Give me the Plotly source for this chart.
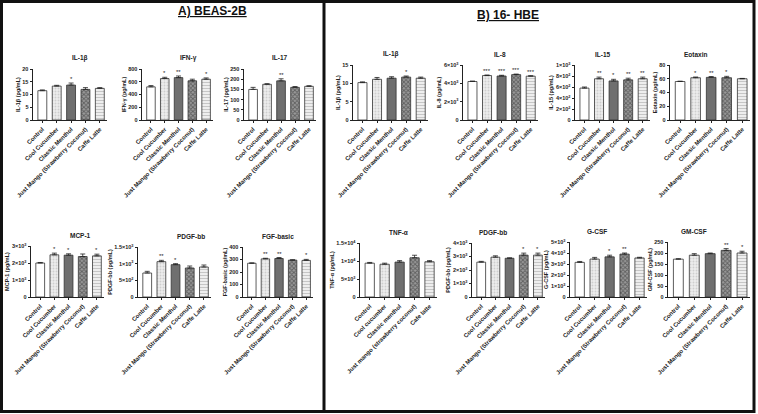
import plotly.graph_objects as go

W, H = 758, 414

# ---------------- DATA ----------------
cats = ["Control", "Cool Cucumber", "Classic Menthol",
        "Just Mango (Strawberry Coconut)", "Caffe Latte"]
cats_tnf = ["Control", "Cool cucumber", "Classic menthol",
            "Just mango (strawberry coconut)", "Cafe latte"]

# Panel A) BEAS-2B
a_il1b = [11.5, 13.3, 13.7, 12.0, 12.4]
a_il1b_err = [0.3, 0.3, 0.8, 0.7, 0.3]
a_il1b_sig = ["", "", "*", "", ""]

a_ifng = [520, 650, 665, 615, 640]
a_ifng_err = [20, 20, 25, 25, 20]
a_ifng_sig = ["", "*", "**", "", "*"]

a_il17 = [150, 175, 192, 160, 165]
a_il17_err = [10, 3, 10, 4, 3]
a_il17_sig = ["", "", "**", "", ""]

a_mcp1 = [2000, 2480, 2460, 2380, 2420]
a_mcp1_err = [30, 100, 80, 150, 100]
a_mcp1_sig = ["", "*", "*", "", "*"]

a_pdgf = [720, 1060, 970, 870, 900]
a_pdgf_err = [50, 40, 30, 60, 60]
a_pdgf_sig = ["", "**", "*", "", ""]

a_fgf = [270, 305, 308, 295, 293]
a_fgf_err = [3, 5, 8, 3, 8]
a_fgf_sig = ["", "**", "**", "", "*"]

# Panel B) 16-HBE
b_il1b = [10.2, 11.1, 11.4, 11.7, 11.4]
b_il1b_err = [0.2, 0.5, 0.4, 0.3, 0.3]
b_il1b_sig = ["", "", "", "*", ""]

b_il8 = [4200, 4850, 4800, 4950, 4780]
b_il8_err = [50, 60, 80, 60, 50]
b_il8_sig = ["", "***", "***", "***", "***"]

b_il15 = [580, 750, 710, 730, 750]
b_il15_err = [20, 30, 30, 30, 30]
b_il15_sig = ["", "**", "*", "**", "**"]

b_eot = [56, 61.5, 62, 61.5, 60]
b_eot_err = [0.5, 1, 1.2, 2, 0.5]
b_eot_sig = ["", "*", "**", "*", ""]

b_tnf = [9400, 9100, 9700, 10900, 9800]
b_tnf_err = [200, 300, 400, 700, 300]
b_tnf_sig = ["", "", "", "", ""]

b_pdgf = [2580, 2950, 2870, 3100, 3100]
b_pdgf_err = [60, 100, 30, 150, 150]
b_pdgf_sig = ["", "", "", "*", "*"]

b_gcsf = [3150, 3450, 3650, 3900, 3550]
b_gcsf_err = [80, 150, 150, 100, 60]
b_gcsf_sig = ["", "", "*", "**", ""]

b_gmcsf = [172, 190, 197, 212, 200]
b_gmcsf_err = [2, 7, 3, 8, 8]
b_gmcsf_sig = ["", "", "", "**", "*"]

# tick definitions
def sci(m, e):
    return f"{m}×10<sup>{e}</sup>"

t_il1b_a = ([0, 5, 10, 15, 20], ["0", "5", "10", "15", "20"])
t_ifng = ([0, 200, 400, 600, 800], ["0", "200", "400", "600", "800"])
t_il17 = ([0, 50, 100, 150, 200, 250], ["0", "50", "100", "150", "200", "250"])
t_mcp1 = ([0, 1000, 2000, 3000], ["0", sci(1, 3), sci(2, 3), sci(3, 3)])
t_pdgf_a = ([0, 500, 1000, 1500], ["0", sci(5, 2), sci(1, 3), sci(1.5, 3)])
t_fgf = ([0, 100, 200, 300, 400], ["0", "100", "200", "300", "400"])
t_il1b_b = ([0, 5, 10, 15], ["0", "5", "10", "15"])
t_il8 = ([0, 2000, 4000, 6000], ["0", sci(2, 3), sci(4, 3), sci(6, 3)])
t_il15 = ([0, 200, 400, 600, 800, 1000], ["0", sci(2, 2), sci(4, 2), sci(6, 2), sci(8, 2), sci(1, 3)])
t_eot = ([0, 20, 40, 60, 80], ["0", "20", "40", "60", "80"])
t_tnf = ([0, 5000, 10000, 15000], ["0", sci(5, 3), sci(1, 4), sci(1.5, 4)])
t_pdgf_b = ([0, 1000, 2000, 3000, 4000], ["0", sci(1, 3), sci(2, 3), sci(3, 3), sci(4, 3)])
t_gcsf = ([0, 1000, 2000, 3000, 4000, 5000], ["0", sci(1, 3), sci(2, 3), sci(3, 3), sci(4, 3), sci(5, 3)])
t_gmcsf = ([0, 50, 100, 150, 200, 250], ["0", "50", "100", "150", "200", "250"])

# (title, ytitle, categories, values, errors, sig, ticks, [x0,x1,ytop,ybottom] in px)
panels = [
    ("IL-1β", "IL-1β (pg/mL)", cats, a_il1b, a_il1b_err, a_il1b_sig, t_il1b_a, [33, 107, 69, 120]),
    ("IFN-γ", "IFN-γ (pg/mL)", cats, a_ifng, a_ifng_err, a_ifng_sig, t_ifng, [142, 213, 69, 120]),
    ("IL-17", "IL-17 (pg/mL)", cats, a_il17, a_il17_err, a_il17_sig, t_il17, [244, 316, 69, 120]),
    ("MCP-1", "MCP-1 (pg/mL)", cats, a_mcp1, a_mcp1_err, a_mcp1_sig, t_mcp1, [31, 104, 246, 297]),
    ("PDGF-bb", "PDGF-bb (pg/mL)", cats, a_pdgf, a_pdgf_err, a_pdgf_sig, t_pdgf_a, [138, 211, 247, 297]),
    ("FGF-basic", "FGF-basic (pg/mL)", cats, a_fgf, a_fgf_err, a_fgf_sig, t_fgf, [243, 313, 247, 297]),
    ("IL-1β", "IL-1β (pg/mL)", cats, b_il1b, b_il1b_err, b_il1b_sig, t_il1b_b, [353, 428, 65, 120]),
    ("IL-8", "IL-8 (pg/mL)", cats, b_il8, b_il8_err, b_il8_sig, t_il8, [463, 538, 65, 120]),
    ("IL-15", "IL-15 (pg/mL)", cats, b_il15, b_il15_err, b_il15_sig, t_il15, [575, 650, 65, 120]),
    ("Eotaxin", "Eotaxin (pg/mL)", cats, b_eot, b_eot_err, b_eot_sig, t_eot, [670, 750, 65, 120]),
    ("TNF-α", "TNF-α (pg/mL)", cats_tnf, b_tnf, b_tnf_err, b_tnf_sig, t_tnf, [360, 437, 243, 297]),
    ("PDGF-bb", "PDGF-bb (pg/mL)", cats, b_pdgf, b_pdgf_err, b_pdgf_sig, t_pdgf_b, [472, 545, 243, 297]),
    ("G-CSF", "G-CSF (pg/mL)", cats, b_gcsf, b_gcsf_err, b_gcsf_sig, t_gcsf, [570, 647, 242, 297]),
    ("GM-CSF", "GM-CSF (pg/mL)", cats, b_gmcsf, b_gmcsf_err, b_gmcsf_sig, t_gmcsf, [668, 750, 242, 297]),
]

# bar styles per treatment
styles = [
    dict(color="white", pattern=dict(shape="")),
    dict(color="#e6e6e6", pattern=dict(shape=".", fgcolor="#b0b0b0", bgcolor="#ececec", size=3, solidity=0.3)),
    dict(color="#6f6f6f", pattern=dict(shape="")),
    dict(color="#666666", pattern=dict(shape="x", fgcolor="#262626", bgcolor="#9a9a9a", size=3, solidity=0.5)),
    dict(color="#eeeeee", pattern=dict(shape="-", fgcolor="#9a9a9a", bgcolor="#f2f2f2", size=3, solidity=0.4)),
]

FONT = "Arial, Liberation Sans, sans-serif"
fig = go.Figure()
annotations = []

for i, (title, ytitle, cs, vals, errs, sig, ticks, pos) in enumerate(panels):
    n = i + 1
    xa = "x" if n == 1 else f"x{n}"
    ya = "y" if n == 1 else f"y{n}"
    x0, x1, yt, yb = pos
    for j in range(len(cs)):
        st = styles[j]
        fig.add_trace(go.Bar(
            x=[cs[j]], y=[vals[j]], xaxis=xa, yaxis=ya,
            width=0.62,
            marker=dict(color=st["color"], pattern=st["pattern"],
                        line=dict(color="#333333", width=0.8)),
            error_y=dict(type="data", symmetric=False, array=[errs[j]], arrayminus=[0],
                         color="#222222", thickness=0.8, width=2.5),
            showlegend=False, hoverinfo="skip",
        ))
        if sig[j]:
            annotations.append(dict(x=cs[j], y=vals[j] + errs[j], xref=xa, yref=ya,
                                    text=sig[j], showarrow=False, yanchor="bottom", yshift=-1,
                                    font=dict(size=6, family=FONT, color="#222")))
    xd = [x0 / W, x1 / W]
    yd = [1 - yb / H, 1 - yt / H]
    lay_x = "xaxis" if n == 1 else f"xaxis{n}"
    lay_y = "yaxis" if n == 1 else f"yaxis{n}"
    fig.layout[lay_x] = dict(domain=xd, anchor=ya, type="category", range=[-0.65, 4.5],
                             automargin=False,
                             showline=True, linecolor="#222", linewidth=0.9,
                             ticks="outside", ticklen=2.5, tickwidth=0.8, tickcolor="#222",
                             tickangle=-45, showgrid=False, zeroline=False,
                             tickfont=dict(size=6, family=FONT, color="#222", weight="bold"))
    fig.layout[lay_y] = dict(domain=yd, anchor=xa, range=[0, ticks[0][-1]],
                             automargin=False,
                             tickvals=ticks[0], ticktext=ticks[1],
                             showline=True, linecolor="#222", linewidth=0.9,
                             ticks="outside", ticklen=2.5, tickwidth=0.8, tickcolor="#222",
                             showgrid=False, zeroline=False,
                             tickfont=dict(size=5.5, family=FONT, color="#222", weight="bold"),
                             title=dict(text=ytitle, standoff=1,
                                        font=dict(size=5.5, family=FONT, color="#222", weight="bold")))
    annotations.append(dict(x=(x0 + x1) / 2 / W, y=1 - (yt - 11) / H, xref="paper", yref="paper",
                            text=f"<b>{title}</b>", showarrow=False, yanchor="middle",
                            font=dict(size=6.5, family=FONT, color="#222")))

annotations.append(dict(x=176 / W, y=1 - 11 / H, xref="paper", yref="paper",
                        text="<u><b>A) BEAS-2B</b></u>", showarrow=False, yanchor="middle",
                        font=dict(size=12, family=FONT, color="#111")))
annotations.append(dict(x=541 / W, y=1 - 15 / H, xref="paper", yref="paper",
                        text="<u><b>B) 16- HBE</b></u>", showarrow=False, yanchor="middle",
                        font=dict(size=12, family=FONT, color="#111")))

shapes = [
    dict(type="rect", xref="paper", yref="paper", x0=1.5 / W, x1=754 / W, y0=1 - 411.5 / H, y1=1 - 1.5 / H,
         line=dict(color="#111", width=3)),
    dict(type="line", xref="paper", yref="paper", x0=324 / W, x1=324 / W, y0=1 - 411.5 / H, y1=1 - 1.5 / H,
         line=dict(color="#111", width=3)),
]

fig.update_layout(width=W, height=H, margin=dict(l=0, r=0, t=0, b=0, autoexpand=False),
                  paper_bgcolor="white", plot_bgcolor="white",
                  barmode="overlay", annotations=annotations, shapes=shapes,
                  font=dict(family=FONT))

fig.write_html("out.html", config={"displayModeBar": False},
               post_script="document.body.style.margin='0';document.body.style.padding='0';")
